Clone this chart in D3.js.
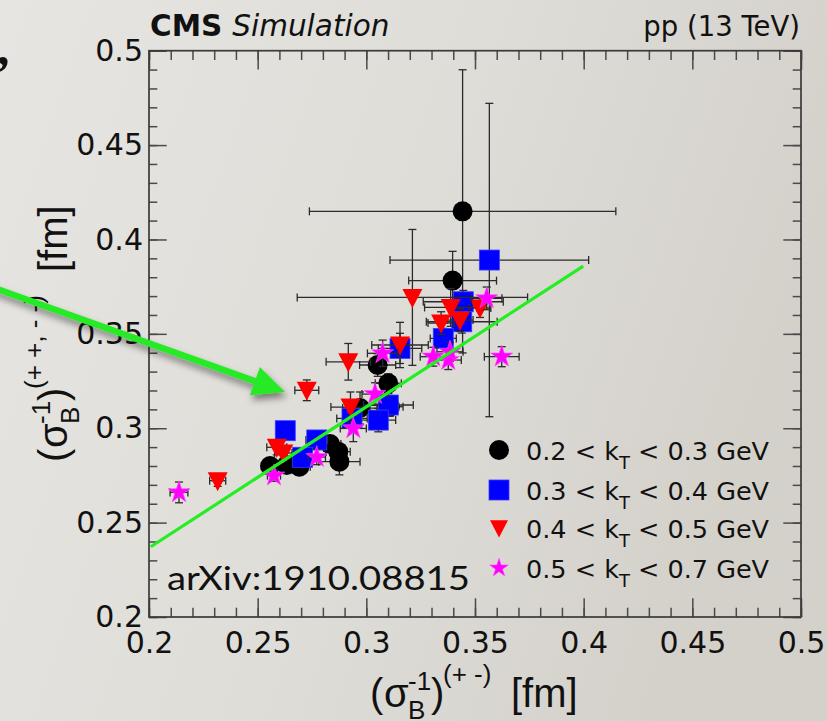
<!DOCTYPE html>
<html>
<head>
<meta charset="utf-8">
<script src="https://cdn.jsdelivr.net/npm/d3@7"></script>
<style>
  html, body { margin: 0; padding: 0; overflow: hidden; background: #e0dfdb; }
  svg { display: block; }
</style>
</head>
<body>
<svg id="chart" width="827" height="721"></svg>
<script>
// Inverse Bowler-Sinyukov widths: like-sign (y) vs unlike-sign (x) pairs, in fm

// 0.2 < kT < 0.3 GeV
const kt1X  = [0.3443, 0.3397, 0.3052, 0.3101, 0.3109, 0.2971, 0.2833, 0.2871, 0.2876, 0.2557, 0.2634, 0.2692];
const kt1Y  = [0.4149, 0.3782, 0.3335, 0.3238, 0.3114, 0.3107, 0.2916, 0.2876, 0.2823, 0.2800, 0.2805, 0.2796];
const kt1Ex = [0.0705, 0.0202, 0.0083, 0.0060, 0.0060, 0.0080, 0.0050, 0.0055, 0.0095, 0.0040, 0.0040, 0.0050];
const kt1Ey = [0.0750, 0.0155, 0.0060, 0.0050, 0.0050, 0.0085, 0.0040, 0.0040, 0.0070, 0.0030, 0.0030, 0.0040];

// 0.3 < kT < 0.4 GeV
const kt2X  = [0.3566, 0.3446, 0.3439, 0.3354, 0.3155, 0.3101, 0.3055, 0.2934, 0.2772, 0.2707, 0.2627];
const kt2Y  = [0.3891, 0.3670, 0.3564, 0.3476, 0.3423, 0.3123, 0.3043, 0.3052, 0.2938, 0.2846, 0.2987];
const kt2Ex = [0.0457, 0.0184, 0.0163, 0.0060, 0.0100, 0.0115, 0.0080, 0.0070, 0.0050, 0.0040, 0.0030];
const kt2Ey = [0.0830, 0.0060, 0.0060, 0.0053, 0.0080, 0.0060, 0.0062, 0.0060, 0.0040, 0.0040, 0.0030];

// 0.4 < kT < 0.5 GeV
const kt3X  = [0.3212, 0.3155, 0.2917, 0.2726, 0.2927, 0.2588, 0.2618, 0.2316, 0.3388, 0.3344, 0.3431, 0.3523];
const kt3Y  = [0.3693, 0.3441, 0.3352, 0.3201, 0.3112, 0.2899, 0.2869, 0.2722, 0.3640, 0.3557, 0.3573, 0.3637];
const kt3Ex = [0.0530, 0.0130, 0.0102, 0.0055, 0.0090, 0.0046, 0.0040, 0.0037, 0.0120, 0.0060, 0.0060, 0.0050];
const kt3Ey = [0.0360, 0.0120, 0.0097, 0.0055, 0.0080, 0.0040, 0.0040, 0.0030, 0.0100, 0.0060, 0.0060, 0.0050];

// 0.5 < kT < 0.7 GeV
const kt4X  = [0.3554, 0.3623, 0.3308, 0.3377, 0.3385, 0.3075, 0.3040, 0.2940, 0.2772, 0.2575, 0.2138];
const kt4Y  = [0.3688, 0.3379, 0.3379, 0.3361, 0.3405, 0.3397, 0.3181, 0.2999, 0.2847, 0.2749, 0.2660];
const kt4Ex = [0.0070, 0.0080, 0.0060, 0.0060, 0.0060, 0.0070, 0.0060, 0.0060, 0.0040, 0.0030, 0.0041];
const kt4Ey = [0.0060, 0.0053, 0.0050, 0.0050, 0.0050, 0.0070, 0.0060, 0.0070, 0.0040, 0.0030, 0.0055];

// linear fit through all points
const fitX = [0.2008, 0.3998];
const fitY = [0.2372, 0.3859];

// legend kT ranges
const ktLow  = ["0.2", "0.3", "0.4", "0.5"];
const ktHigh = ["0.3", "0.4", "0.5", "0.7"];

// axis ticks
const xTickValues = [0.2, 0.25, 0.3, 0.35, 0.4, 0.45, 0.5];
const xTickLabels = ["0.2", "0.25", "0.3", "0.35", "0.4", "0.45", "0.5"];
const yTickValues = [0.2, 0.25, 0.3, 0.35, 0.4, 0.45, 0.5];
const yTickLabels = ["0.2", "0.25", "0.3", "0.35", "0.4", "0.45", "0.5"];

const series = [
  { xs: kt1X, ys: kt1Y, ex: kt1Ex, ey: kt1Ey, shape: "circle",   fill: "#000000" },
  { xs: kt2X, ys: kt2Y, ex: kt2Ex, ey: kt2Ey, shape: "square",   fill: "#0000ff" },
  { xs: kt3X, ys: kt3Y, ex: kt3Ex, ey: kt3Ey, shape: "triangle", fill: "#ff0000" },
  { xs: kt4X, ys: kt4Y, ex: kt4Ex, ey: kt4Ey, shape: "star",     fill: "#ff00ff" }
];

const svg = d3.select("#chart");
const W = 827, H = 721;
const ROOTFONT = "'DejaVu Sans', sans-serif";
const TITLEFONT = "'Liberation Sans', Arial, sans-serif";

const x = d3.scaleLinear().domain([0.2, 0.5]).range([149, 801]);
const y = d3.scaleLinear().domain([0.2, 0.5]).range([617, 50.7]);

// ---- slide background ----
const defs = svg.append("defs");
const bg = defs.append("linearGradient").attr("id", "bg").attr("x1", 0).attr("y1", 0).attr("x2", 1).attr("y2", 0.3);
bg.append("stop").attr("offset", 0).attr("stop-color", "#e6e5e1");
bg.append("stop").attr("offset", 0.55).attr("stop-color", "#dfddd8");
bg.append("stop").attr("offset", 1).attr("stop-color", "#d4d1cb");
const shadow = defs.append("filter").attr("id", "shadow").attr("x", "-20%").attr("y", "-50%").attr("width", "150%").attr("height", "200%");
shadow.append("feDropShadow").attr("dx", 2).attr("dy", 5).attr("stdDeviation", 3.5)
  .attr("flood-color", "#000").attr("flood-opacity", 0.45);

svg.append("rect").attr("width", W).attr("height", H).attr("fill", "url(#bg)");

// trailing comma of the slide text above
svg.append("text").attr("x", -3).attr("y", 64)
  .attr("font-family", "'Liberation Serif', serif").attr("font-weight", "bold")
  .attr("font-size", 50).attr("fill", "#111").text(",");

// ---- axes (ticks on all four sides, pointing inward) ----
const tickColor = "#4a4a4a";
function styleTicks(g) {
  g.select(".domain").remove();
  g.selectAll(".tick line").attr("stroke", tickColor).attr("stroke-width", 1.5);
  g.selectAll(".tick text").attr("font-family", ROOTFONT).attr("font-size", 30).attr("fill", "#111");
}
const xMinor = x.ticks(30);
const yMinor = y.ticks(30);

svg.append("g").attr("transform", `translate(0,${y(0.2)})`)
  .call(d3.axisBottom(x).tickValues(xMinor).tickSize(-9.3).tickFormat("")).call(styleTicks);
svg.append("g").attr("transform", `translate(0,${y(0.2)})`)
  .call(d3.axisBottom(x).tickValues(xTickValues).tickSizeInner(-18.7).tickSizeOuter(0)
    .tickPadding(14.5).tickFormat((d, i) => xTickLabels[i])).call(styleTicks);
svg.append("g").attr("transform", `translate(0,${y(0.5)})`)
  .call(d3.axisTop(x).tickValues(xMinor).tickSize(-9.3).tickFormat("")).call(styleTicks);
svg.append("g").attr("transform", `translate(0,${y(0.5)})`)
  .call(d3.axisTop(x).tickValues(xTickValues).tickSize(-18.7).tickFormat("")).call(styleTicks);

svg.append("g").attr("transform", `translate(${x(0.2)},0)`)
  .call(d3.axisLeft(y).tickValues(yMinor).tickSize(-8.3).tickFormat("")).call(styleTicks);
svg.append("g").attr("transform", `translate(${x(0.2)},0)`)
  .call(d3.axisLeft(y).tickValues(yTickValues).tickSizeInner(-17.7).tickSizeOuter(0)
    .tickPadding(6).tickFormat((d, i) => yTickLabels[i])).call(styleTicks);
svg.append("g").attr("transform", `translate(${x(0.5)},0)`)
  .call(d3.axisRight(y).tickValues(yMinor).tickSize(-8.3).tickFormat("")).call(styleTicks);
svg.append("g").attr("transform", `translate(${x(0.5)},0)`)
  .call(d3.axisRight(y).tickValues(yTickValues).tickSize(-17.7).tickFormat("")).call(styleTicks);

// frame
svg.append("rect")
  .attr("x", x(0.2)).attr("y", y(0.5))
  .attr("width", x(0.5) - x(0.2)).attr("height", y(0.2) - y(0.5))
  .attr("fill", "none").attr("stroke", "#3a3a3a").attr("stroke-width", 1.7);

// ---- markers ----
const starPath = d3.symbol().type(d3.symbolStar).size(150)();
function drawMarker(g, shape, fill, cx, cy, s = 1) {
  if (shape === "circle") {
    g.append("circle").attr("cx", cx).attr("cy", cy).attr("r", 10 * s).attr("fill", fill);
  } else if (shape === "square") {
    g.append("rect").attr("x", cx - 10 * s).attr("y", cy - 10 * s)
      .attr("width", 20 * s).attr("height", 20 * s)
      .attr("fill", fill).attr("stroke", "#3b3bff").attr("stroke-width", 0.8);
  } else if (shape === "triangle") {
    const pts = [[-10, -8.5], [10, -8.5], [0, 10.5]].map(p => [cx + p[0] * s, cy + p[1] * s]);
    g.append("path").attr("d", d3.line()(pts) + "Z").attr("fill", fill);
  } else {
    g.append("path").attr("d", starPath).attr("transform", `translate(${cx},${cy}) scale(${s})`)
      .attr("fill", fill).attr("stroke", "#ff4dff").attr("stroke-width", 0.6);
  }
}

const errColor = "#2b2b2b";
const cap = 4;
const plot = svg.append("g");
series.forEach(sr => {
  const eg = plot.append("g").attr("stroke", errColor).attr("stroke-width", 1.3).attr("fill", "none");
  sr.xs.forEach((xv, i) => {
    const cx = x(xv), cy = y(sr.ys[i]);
    const x0 = x(xv - sr.ex[i]), x1 = x(xv + sr.ex[i]);
    const y0 = y(sr.ys[i] - sr.ey[i]), y1 = y(sr.ys[i] + sr.ey[i]);
    eg.append("line").attr("x1", x0).attr("x2", x1).attr("y1", cy).attr("y2", cy);
    eg.append("line").attr("x1", x0).attr("x2", x0).attr("y1", cy - cap).attr("y2", cy + cap);
    eg.append("line").attr("x1", x1).attr("x2", x1).attr("y1", cy - cap).attr("y2", cy + cap);
    eg.append("line").attr("x1", cx).attr("x2", cx).attr("y1", y0).attr("y2", y1);
    eg.append("line").attr("x1", cx - cap).attr("x2", cx + cap).attr("y1", y0).attr("y2", y0);
    eg.append("line").attr("x1", cx - cap).attr("x2", cx + cap).attr("y1", y1).attr("y2", y1);
  });
  const mg = plot.append("g");
  sr.xs.forEach((xv, i) => drawMarker(mg, sr.shape, sr.fill, x(xv), y(sr.ys[i])));
});

// fit line
svg.append("path")
  .attr("d", d3.line().x(d => x(d[0])).y(d => y(d[1]))(fitX.map((v, i) => [v, fitY[i]])))
  .attr("stroke", "#22ee22").attr("stroke-width", 3.2).attr("fill", "none");

// ---- legend ----
const lg = svg.append("g");
const legendRowY = [450, 490, 528, 568];
series.forEach((sr, i) => {
  const cy = legendRowY[i];
  drawMarker(lg, sr.shape, sr.fill, 499, cy, sr.shape === "star" ? 0.85 : (sr.shape === "triangle" ? 0.9 : 1));
  const t = lg.append("text").attr("x", 526).attr("y", cy + 10)
    .attr("font-family", ROOTFONT).attr("font-size", 25.5).attr("fill", "#111");
  t.append("tspan").text(`${ktLow[i]} < k`);
  t.append("tspan").attr("font-size", 18).attr("dy", 9).text("T");
  t.append("tspan").attr("dy", -9).text(` < ${ktHigh[i]} GeV`);
});

// ---- header texts ----
const head = svg.append("text").attr("x", 150).attr("y", 36)
  .attr("font-family", ROOTFONT).attr("font-size", 29.5).attr("fill", "#111");
head.append("tspan").attr("font-weight", "bold").text("CMS");
head.append("tspan").attr("font-style", "italic").attr("dx", 10).text("Simulation");

svg.append("text").attr("x", 800).attr("y", 36).attr("text-anchor", "end")
  .attr("font-family", ROOTFONT).attr("font-size", 27.5).attr("fill", "#111")
  .text("pp (13 TeV)");

svg.append("text").attr("x", 167).attr("y", 590)
  .attr("font-family", "Lato, 'Open Sans', sans-serif").attr("font-size", 32).attr("fill", "#111")
  .attr("textLength", 303).attr("lengthAdjust", "spacingAndGlyphs")
  .text("arXiv:1910.08815");

// ---- axis titles ----
function axisTitle(g, supText) {
  const t = g.append("text").attr("font-family", TITLEFONT).attr("font-size", 40).attr("fill", "#111");
  t.append("tspan").attr("x", 0).attr("y", 0).text("(");
  t.append("tspan").attr("x", 14).attr("y", 0).text("σ");
  t.append("tspan").attr("x", 38).attr("y", 12).attr("font-size", 26).text("B");
  t.append("tspan").attr("x", 38).attr("y", -17).attr("font-size", 26).text("-1");
  t.append("tspan").attr("x", 61).attr("y", 0).text(")");
  t.append("tspan").attr("x", 73).attr("y", -24).attr("font-size", 26).text(supText);
  return t;
}
const xt = axisTitle(svg.append("g").attr("transform", "translate(370,707)"), "(+ -)");
xt.append("tspan").attr("x", 141).attr("y", 0).text("[fm]");
const yt = axisTitle(svg.append("g").attr("transform", "translate(67,462) rotate(-90)"), "(+ +, - -)");
yt.append("tspan").attr("x", 190).attr("y", 0).text("[fm]");

// ---- slide arrow pointing at the data ----
const arrowFrom = [-12, 285.7], arrowTip = [285, 392];
const dx = arrowTip[0] - arrowFrom[0], dy = arrowTip[1] - arrowFrom[1];
const len = Math.hypot(dx, dy), ux = dx / len, uy = dy / len;
const headLen = 32, headHalf = 15;
const base = [arrowTip[0] - headLen * ux, arrowTip[1] - headLen * uy];
const ag = svg.append("g").attr("filter", "url(#shadow)");
ag.append("line").attr("x1", arrowFrom[0]).attr("y1", arrowFrom[1])
  .attr("x2", base[0] + 2 * ux).attr("y2", base[1] + 2 * uy)
  .attr("stroke", "#26ea26").attr("stroke-width", 6.5);
ag.append("path")
  .attr("d", d3.line()([arrowTip,
    [base[0] - headHalf * uy, base[1] + headHalf * ux],
    [base[0] + headHalf * uy, base[1] - headHalf * ux]]) + "Z")
  .attr("fill", "#26ea26");
</script>
</body>
</html>
